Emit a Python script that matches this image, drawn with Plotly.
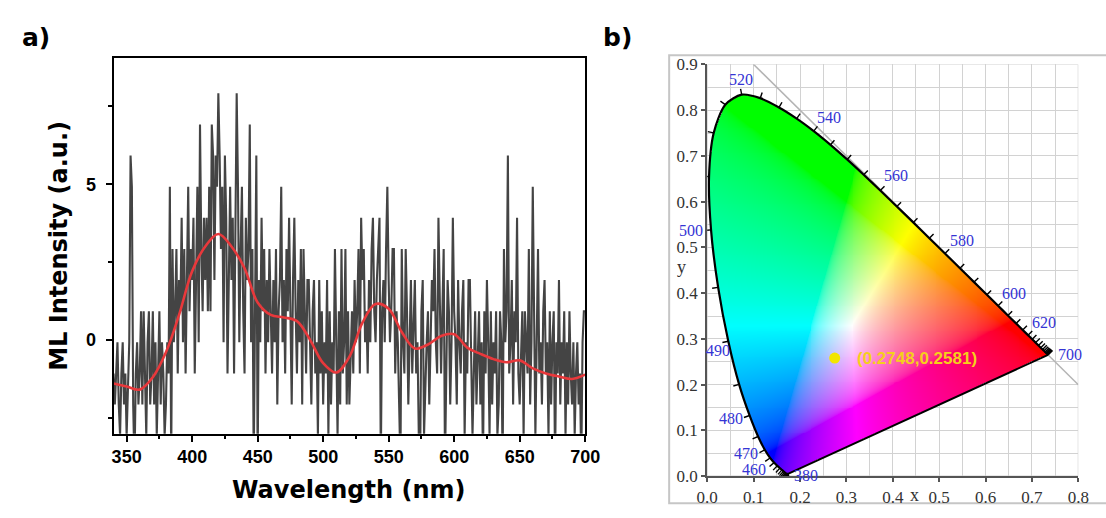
import numpy as np
import plotly.graph_objects as go

W, H = 1106, 518

# ---------------- panel a) data ----------------
ml_wavelength = list(range(340, 701))
ml_counts = [
    -1, -2, -1, 0, -2, -3, -1, 0, -2, -1,      # 340
    -3, -1, 0, 6, 5, -2, -4, -1, 0, -2,        # 350
    -1, 1, -2, 1, -1, -3, 0, 1, -2, -1,        # 360
    1, -2, 0, -3, -1, 1, -2, 0, -1, -3,        # 370
    -2, 0, -1, 5, -4, 3, 0, 1, 3, -1,          # 380
    2, 1, 4, 0, 3, -1, 2, 5, 1, 3,             # 390
    2, 4, -1, 3, 5, 0, 7, 3, 1, 4,             # 400
    2, 4, 1, 5, 1, 7, 6, 2, 6, 5,              # 410
    8, 6, 3, 5, 0, 6, 4, -1, 3, 5,             # 420
    2, 4, -1, 3, 8, 5, 0, 3, 5, 1,             # 430
    -1, 4, 2, 3, 7, 0, 3, -4, 2, 6,            # 440
    -4, 2, 0, 4, 1, 3, -1, 2, 0, 3,            # 450
    1, -1, 2, 0, 3, -2, 1, 2, 5, 0,            # 460
    2, -1, 3, 1, 4, 0, -2, 2, 4, 1,            # 470
    -1, 2, 0, 3, -2, 3, 1, -1, 2, 2,           # 480
    0, -2, 1, 2, -1, 0, -3, 2, -1, 1,          # 490
    -2, 0, -1, 2, -3, 1, -2, 0, -1, 3,         # 500
    0, -3, 1, -2, 3, -1, 0, 3, -2, 1,          # 510
    -2, 0, 1, -1, 2, 0, 1, 3, -1, 4,           # 520
    2, 3, 0, 1, -1, 2, 0, 3, 4, 1,             # 530
    0, 2, 3, 4, -4, 1, 2, 0, 3, 5,             # 540
    2, 0, 1, 3, 3, -1, 1, 0, -2, -4,           # 550
    3, 0, -1, 3, 1, -2, 0, 2, -1, 1,           # 560
    2, -1, 0, -3, -4, 1, 2, -3, -1, 0,         # 570
    1, -2, 0, 2, 1, 3, 0, -1, 4, 2,            # 580
    -1, 1, 3, -4, 0, 2, 1, -2, 0, 4,           # 590
    1, 0, -2, 2, 0, -1, 1, 2, -3, 0,           # 600
    -1, 2, 2, 0, -3, -1, 1, -2, 0, 1,          # 610
    -2, 0, -4, 1, -1, 2, 0, -3, 1, -2,         # 620
    0, -1, 1, -3, -2, 1, 0, -4, 3, 0,          # 630
    1, 6, -1, 0, 2, -2, 1, 0, 4, -1,           # 640
    -2, 0, 1, -3, 1, 0, -1, 3, -2, 0,          # 650
    5, 1, -3, 0, 3, -1, 0, -2, 1, 2,           # 660
    -1, 0, -3, 1, -2, 0, 1, -4, 0, -1,         # 670
    2, -2, 0, -1, 1, -3, 0, -2, 1, -1,         # 680
    -2, 0, -3, -1, 0, -2, -1, -4, 0, 1,        # 690
    1,                                         # 700
]
ml_offset = -0.08
ml_intensity = [c + ml_offset for c in ml_counts]

fit_wavelength = list(range(340, 701, 10))
fit_intensity = [
    -1.40, -1.50, -1.60, -1.20, -0.40, 0.80, 2.20, 3.00, 3.40, 3.00,
    2.30, 1.20, 0.80, 0.72, 0.60, 0.00, -0.75, -1.05, -0.55, 0.55,
    1.15, 1.00, 0.25, -0.28, -0.15, 0.12, 0.18, -0.25, -0.45, -0.62,
    -0.72, -0.66, -0.92, -1.08, -1.18, -1.26, -1.12,
]

# ---------------- panel b) data (CIE 1931 spectral locus) ----------------
locus_nm = list(range(380, 701, 5))
locus_x = [
    0.1741, 0.1740, 0.1738, 0.1736, 0.1733, 0.1730, 0.1726, 0.1721, 0.1714, 0.1703,
    0.1689, 0.1669, 0.1644, 0.1611, 0.1566, 0.1510, 0.1440, 0.1355, 0.1241, 0.1096,
    0.0913, 0.0687, 0.0454, 0.0235, 0.0082, 0.0039, 0.0139, 0.0389, 0.0743, 0.1142,
    0.1547, 0.1929, 0.2296, 0.2658, 0.3016, 0.3373, 0.3731, 0.4087, 0.4441, 0.4788,
    0.5125, 0.5448, 0.5752, 0.6029, 0.6270, 0.6482, 0.6658, 0.6801, 0.6915, 0.7006,
    0.7079, 0.7140, 0.7190, 0.7230, 0.7260, 0.7283, 0.7300, 0.7311, 0.7320, 0.7327,
    0.7334, 0.7340, 0.7344, 0.7346, 0.7347,
]
locus_y = [
    0.0050, 0.0050, 0.0049, 0.0049, 0.0048, 0.0048, 0.0048, 0.0048, 0.0051, 0.0058,
    0.0069, 0.0086, 0.0109, 0.0138, 0.0177, 0.0227, 0.0297, 0.0399, 0.0578, 0.0868,
    0.1327, 0.2007, 0.2950, 0.4127, 0.5384, 0.6548, 0.7502, 0.8120, 0.8338, 0.8262,
    0.8059, 0.7816, 0.7543, 0.7243, 0.6923, 0.6589, 0.6245, 0.5896, 0.5547, 0.5202,
    0.4866, 0.4544, 0.4242, 0.3965, 0.3725, 0.3514, 0.3340, 0.3197, 0.3083, 0.2993,
    0.2920, 0.2859, 0.2809, 0.2770, 0.2740, 0.2717, 0.2700, 0.2689, 0.2680, 0.2673,
    0.2666, 0.2660, 0.2656, 0.2654, 0.2653,
]
label_nm = [380, 460, 470, 480, 490, 500, 520, 540, 560, 580, 600, 620, 700]
point_x = 0.2748
point_y = 0.2581
point_label = "(0.2748,0.2581)"

# label pixel offsets (style, not data)
label_shift = {
    380: (18, -2), 460: (-20, -7), 470: (-19, -4), 480: (-19, -3), 490: (-10, -9),
    500: (-20, -1), 520: (-1, 15), 540: (15, 14), 560: (16, 15), 580: (17, 13),
    600: (16, 12), 620: (16, 13), 700: (22, 0),
}


def px(v):
    return v / W


def py(v):
    return 1 - v / H


fig = go.Figure()

# ---------------- panel a ----------------
fig.add_trace(go.Scatter(
    x=ml_wavelength, y=ml_intensity, mode="lines",
    line=dict(color="#444444", width=2.1), xaxis="x", yaxis="y",
    hoverinfo="skip", showlegend=False))
fig.add_trace(go.Scatter(
    x=fit_wavelength, y=fit_intensity, mode="lines",
    line=dict(color="#e8383b", width=2.6, shape="spline", smoothing=1.0),
    xaxis="x", yaxis="y", hoverinfo="skip", showlegend=False))

# ---------------- panel b: colour gamut image ----------------
lx = np.array(locus_x)
ly = np.array(locus_y)
nx_pix = 380
dx = 0.8 / nx_pix
ny_pix = int(round(0.9 / dx))
dy = 0.9 / ny_pix
gx = (np.arange(nx_pix) + 0.5) * dx
gy = (np.arange(ny_pix) + 0.5) * dy
GX, GY = np.meshgrid(gx, gy)
GZ = 1.0 - GX - GY
M = np.array([[3.2406, -1.5372, -0.4986],
              [-0.9689, 1.8758, 0.0415],
              [0.0557, -0.2040, 1.0570]])
rgb = np.stack([M[i, 0] * GX + M[i, 1] * GY + M[i, 2] * GZ for i in range(3)], axis=-1)
rgb = np.clip(rgb, 0, None)
mx = rgb.max(axis=-1, keepdims=True)
mx[mx == 0] = 1
rgb = rgb / mx
rgb = np.where(rgb <= 0.0031308, 12.92 * rgb, 1.055 * np.power(rgb, 1 / 2.4) - 0.055)
rgb = np.clip(rgb * 255, 0, 255)

inside = np.zeros(GX.shape, dtype=bool)
npoly = len(lx)
for i in range(npoly):
    x1, y1 = lx[i], ly[i]
    x2, y2 = lx[(i + 1) % npoly], ly[(i + 1) % npoly]
    if y1 == y2:
        continue
    cond = ((y1 > GY) != (y2 > GY)) & (GX < (x2 - x1) * (GY - y1) / (y2 - y1) + x1)
    inside ^= cond
alpha = np.where(inside, 255, 0)
rgba = np.concatenate([rgb, alpha[..., None]], axis=-1).astype(np.uint8)

fig.add_trace(go.Image(
    z=rgba.tolist(), colormodel="rgba256", x0=dx / 2, dx=dx, y0=dy / 2, dy=dy,
    xaxis="x2", yaxis="y2", hoverinfo="skip"))

# line of purples
fig.add_trace(go.Scatter(
    x=[locus_x[0], locus_x[-1]], y=[locus_y[0], locus_y[-1]], mode="lines",
    line=dict(color="black", width=2), xaxis="x2", yaxis="y2",
    hoverinfo="skip", showlegend=False))
# spectral locus
fig.add_trace(go.Scatter(
    x=locus_x, y=locus_y, mode="lines",
    line=dict(color="black", width=2.2, shape="spline", smoothing=0.8),
    xaxis="x2", yaxis="y2", hoverinfo="skip", showlegend=False))

# tick marks on the locus (every 5 nm, outward normal)
n = len(lx)
tx = np.empty(n)
ty = np.empty(n)
for i in range(n):
    a = max(i - 1, 0)
    b = min(i + 1, n - 1)
    tx[i] = lx[b] - lx[a]
    ty[i] = ly[b] - ly[a]
nrm = np.hypot(tx, ty)
tx /= nrm
ty /= nrm
nxv, nyv = -ty, tx
tick_len = 0.013
tick_x, tick_y = [], []
for i in range(n):
    tick_x += [lx[i], lx[i] + nxv[i] * tick_len, None]
    tick_y += [ly[i], ly[i] + nyv[i] * tick_len, None]
fig.add_trace(go.Scatter(
    x=tick_x, y=tick_y, mode="lines", line=dict(color="black", width=1.4),
    xaxis="x2", yaxis="y2", hoverinfo="skip", showlegend=False))

# CIE point
fig.add_trace(go.Scatter(
    x=[point_x], y=[point_y], mode="markers",
    marker=dict(color="#f2e600", size=11), xaxis="x2", yaxis="y2",
    hoverinfo="skip", showlegend=False))

annotations = []
for nm in label_nm:
    i = locus_nm.index(nm)
    sx, sy = label_shift[nm]
    annotations.append(dict(
        x=locus_x[i], y=locus_y[i], xref="x2", yref="y2", text=str(nm),
        showarrow=False, xshift=sx, yshift=sy, xanchor="center", yanchor="middle",
        font=dict(family="Liberation Serif", size=16, color="#3434d4")))

annotations.append(dict(
    x=point_x, y=point_y, xref="x2", yref="y2", text="<b>" + point_label + "</b>",
    showarrow=False, xanchor="left", yanchor="middle", xshift=20,
    font=dict(family="Liberation Sans", size=17, color="#f5cf1c")))

annotations += [
    dict(x=px(925), y=py(505), xref="paper", yref="paper", text="x", showarrow=False,
         xanchor="center", yanchor="middle",
         font=dict(family="Liberation Serif", size=18, color="#333333")),
    dict(x=px(687), y=py(268), xref="paper", yref="paper", text="y", showarrow=False,
         xanchor="center", yanchor="middle",
         font=dict(family="Liberation Serif", size=18, color="#333333")),
    dict(x=px(346), y=py(499), xref="paper", yref="paper", text="<b>Wavelength (nm)</b>",
         showarrow=False, xanchor="center", yanchor="middle",
         font=dict(family="DejaVu Sans", size=24, color="black")),
    dict(x=px(49), y=py(246), xref="paper", yref="paper", text="<b>ML Intensity (a.u.)</b>",
         showarrow=False, textangle=-90, xanchor="center", yanchor="middle",
         font=dict(family="DejaVu Sans", size=24, color="black")),
    dict(x=px(26), y=py(30), xref="paper", yref="paper", text="<b>a)</b>",
         showarrow=False, xanchor="center", yanchor="middle",
         font=dict(family="DejaVu Sans", size=25, color="black")),
    dict(x=px(621), y=py(30), xref="paper", yref="paper", text="<b>b)</b>",
         showarrow=False, xanchor="center", yanchor="middle",
         font=dict(family="DejaVu Sans", size=25, color="black")),
]

grid_col = "#d2d2d2"
shapes = [
    dict(type="rect", xref="paper", yref="paper", x0=px(674), x1=1.02, y0=py(513), y1=py(48),
         line=dict(color="#c6c6c6", width=2), layer="below"),
    dict(type="rect", xref="x2", yref="y2", x0=0, x1=0.8, y0=0, y1=0.9,
         line=dict(color=grid_col, width=1.2), layer="below"),
    dict(type="line", xref="x2", yref="y2", x0=0.1, y0=0.9, x1=0.8, y1=0.2,
         line=dict(color="#b4b4b4", width=1.5), layer="between"),
]

tickfont_a = dict(family="Liberation Sans", size=18, color="black", weight="bold")
tickfont_b = dict(family="Liberation Serif", size=17, color="#333333")

fig.update_layout(
    width=W, height=H, margin=dict(l=0, r=0, t=0, b=0),
    paper_bgcolor="white", plot_bgcolor="white", showlegend=False,
    annotations=annotations, shapes=shapes,
    xaxis=dict(domain=[px(105), px(588)], anchor="y", range=[340, 700],
               tick0=0, dtick=50, ticks="outside", ticklen=6, tickwidth=2, tickcolor="black",
               showline=True, linewidth=2, linecolor="black", mirror=True,
               showgrid=False, zeroline=False, tickfont=tickfont_a,
               minor=dict(dtick=25, ticks="outside", ticklen=3.5, tickwidth=2,
                          tickcolor="black", showgrid=False)),
    yaxis=dict(domain=[py(441), py(51)], anchor="x", range=[-3.02, 9.05],
               tick0=0, dtick=5, ticks="outside", ticklen=6, tickwidth=2, tickcolor="black",
               showline=True, linewidth=2, linecolor="black", mirror=True,
               showgrid=False, zeroline=False, tickfont=tickfont_a, ticklabelstandoff=6,
               minor=dict(dtick=2.5, ticks="outside", ticklen=3.5, tickwidth=2,
                          tickcolor="black", showgrid=False)),
    xaxis2=dict(domain=[px(713), px(1093)], anchor="y2", range=[0, 0.8], autorange=False,
                tick0=0, dtick=0.1, tickformat=".1f", ticks="outside", ticklen=4,
                tickwidth=1.5, tickcolor="#555555",
                showline=True, linewidth=2, linecolor="#555555", mirror=False,
                showgrid=True, gridcolor=grid_col, gridwidth=1.2, zeroline=False,
                tickfont=tickfont_b,
                minor=dict(dtick=0.05, showgrid=True, gridcolor=grid_col, gridwidth=1.2)),
    yaxis2=dict(domain=[py(485), py(57.5)], anchor="x2", range=[0, 0.9], autorange=False,
                scaleanchor=False,
                tick0=0, dtick=0.1, tickformat=".1f", ticks="outside", ticklen=4,
                tickwidth=1.5, tickcolor="#555555",
                showline=True, linewidth=2, linecolor="#555555", mirror=False,
                showgrid=True, gridcolor=grid_col, gridwidth=1.2, zeroline=False,
                tickfont=tickfont_b,
                minor=dict(dtick=0.05, showgrid=True, gridcolor=grid_col, gridwidth=1.2)),
)

fig.write_html("out.html")
